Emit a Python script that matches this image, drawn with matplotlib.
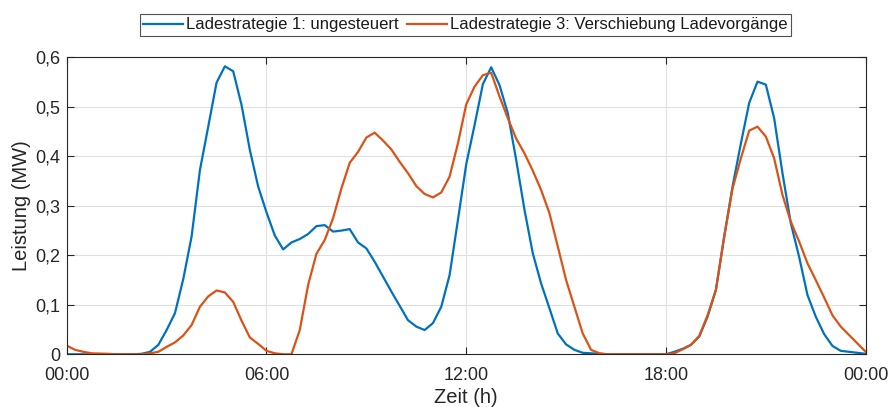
import matplotlib
matplotlib.use("Agg")
import matplotlib.pyplot as plt
from matplotlib.ticker import FuncFormatter
import numpy as np

plt.rcParams['font.family'] = ['Liberation Sans', 'DejaVu Sans']

# time axis: 15-minute steps over one day (hours)
hours = np.arange(0, 24.25, 0.25)

# Ladestrategie 1: ungesteuert (MW)
load_uncontrolled = [
    0, 0, 0, 0, 0, 0, 0, 0, 0, 0.001,
    0.005, 0.019, 0.049, 0.083, 0.152, 0.238, 0.372, 0.460, 0.549, 0.582,
    0.572, 0.504, 0.413, 0.339, 0.287, 0.240, 0.212, 0.226, 0.233, 0.243,
    0.259, 0.261, 0.248, 0.250, 0.253, 0.226, 0.214, 0.187, 0.157, 0.127,
    0.098, 0.069, 0.056, 0.049, 0.063, 0.096, 0.160, 0.271, 0.384, 0.463,
    0.546, 0.580, 0.544, 0.487, 0.393, 0.292, 0.204, 0.143, 0.093, 0.042,
    0.020, 0.009, 0.003, 0.002, 0.001, 0, 0, 0, 0, 0,
    0, 0, 0, 0.005, 0.011, 0.019, 0.036, 0.076, 0.130, 0.238,
    0.339, 0.426, 0.508, 0.551, 0.545, 0.477, 0.366, 0.265, 0.197, 0.120,
    0.076, 0.041, 0.017, 0.007, 0.005, 0.003, 0.001,
]

# Ladestrategie 3: Verschiebung Ladevorgaenge (MW)
load_shifted = [
    0.0175, 0.009, 0.005, 0.002, 0.0015, 0.001, 0, 0, 0, 0,
    0.002, 0.005, 0.015, 0.024, 0.038, 0.059, 0.096, 0.117, 0.129, 0.125,
    0.106, 0.068, 0.034, 0.021, 0.007, 0.002, 0, 0, 0.049, 0.140,
    0.203, 0.231, 0.275, 0.335, 0.387, 0.409, 0.438, 0.448, 0.432, 0.414,
    0.389, 0.366, 0.340, 0.324, 0.317, 0.327, 0.359, 0.426, 0.505, 0.541,
    0.564, 0.569, 0.521, 0.477, 0.436, 0.406, 0.371, 0.332, 0.285, 0.218,
    0.150, 0.096, 0.042, 0.009, 0.002, 0, 0, 0, 0, 0,
    0, 0, 0, 0.002, 0.010, 0.019, 0.037, 0.079, 0.130, 0.238,
    0.335, 0.396, 0.452, 0.460, 0.440, 0.396, 0.322, 0.268, 0.228, 0.184,
    0.150, 0.115, 0.079, 0.056, 0.039, 0.022, 0.005,
]

labels = ["Ladestrategie 1: ungesteuert", "Ladestrategie 3: Verschiebung Ladevorgänge"]
x_ticks = [0, 6, 12, 18, 24]
x_ticklabels = ["00:00", "06:00", "12:00", "18:00", "00:00"]
y_ticks = [0, 0.1, 0.2, 0.3, 0.4, 0.5, 0.6]

dark = '#262626'

fig = plt.figure(figsize=(8.9, 4.07), dpi=100)
ax = fig.add_axes([0.075, 0.1295, 0.8977, 0.7295])

ax.plot(hours, load_uncontrolled, color='#0072BD', linewidth=1.6, label=labels[0])
ax.plot(hours, load_shifted, color='#D95319', linewidth=1.6, label=labels[1])

ax.set_xlim(0, 24)
ax.set_ylim(0, 0.6)
ax.set_xticks(x_ticks)
ax.set_xticklabels(x_ticklabels)
ax.set_yticks(y_ticks)
ax.yaxis.set_major_formatter(FuncFormatter(lambda v, p: ('%g' % round(v, 2)).replace('.', ',')))

ax.grid(True, color='#e0e0e0', linewidth=0.8)
ax.set_axisbelow(True)
ax.tick_params(direction='in', top=True, right=True, length=5, width=0.8,
               colors=dark, labelsize=13)
ax.tick_params(axis='x', pad=9.5)
ax.tick_params(axis='y', pad=4.5)
for s in ax.spines.values():
    s.set_color(dark)
    s.set_linewidth(0.8)

ax.set_xlabel("Zeit (h)", fontsize=14.5, color=dark, labelpad=2.5)
ax.set_ylabel("Leistung (MW)", fontsize=14.5, color=dark, labelpad=3.5)

leg = ax.legend(loc='lower center', bbox_to_anchor=(0.499, 1.073), ncol=2,
                fontsize=12, frameon=True, fancybox=False, borderpad=0.2,
                handlelength=2.4, handletextpad=0.2, columnspacing=0.5,
                borderaxespad=0)
leg.get_frame().set_edgecolor(dark)
leg.get_frame().set_linewidth(0.8)
for t in leg.get_texts():
    t.set_color('#1a1a1a')

fig.savefig("out.png", dpi=100)
